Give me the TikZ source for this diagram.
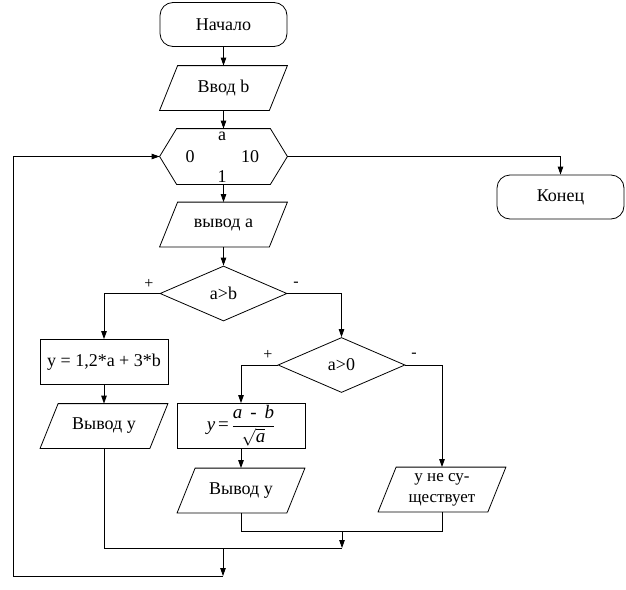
\documentclass[tikz,border=0pt]{standalone}
\usepackage{fontspec}
\setmainfont{Liberation Serif}
\usepackage{amsmath}
\usetikzlibrary{shapes.geometric,arrows.meta}
\begin{document}
\begin{tikzpicture}[x=1pt,y=-1pt, line width=0.8pt, font=\fontsize{18}{21}\selectfont,
 term/.style={draw, rounded corners=13pt, minimum width=127pt, minimum height=44pt, inner sep=0},
 proc/.style={draw, minimum width=128pt, minimum height=45pt, inner sep=0},
 io/.style={minimum width=127pt, minimum height=44pt, inner sep=0, align=center},
 dec/.style={draw, diamond, minimum width=127pt, minimum height=55pt, inner sep=0, aspect=2.3},
 arr/.style={-{Triangle[length=8pt,width=5.5pt]}},
 lbl/.style={inner sep=0},
 sgn/.style={inner sep=0, font=\fontsize{16}{18}\selectfont}]
\useasboundingbox (0,0) rectangle (626,589);
% nodes
\node[term] (start) at (223.5,24.5) {Начало};
\node[io] (inb) at (223.5,88) {Ввод b};
\node[io, minimum height=55pt] (hex) at (223.5,156.5) {};
\node[lbl] (ha) at (222,136) {a};
\node[lbl] (h0) at (190,156.5) {0};
\node[lbl] (h10) at (250,156.5) {10};
\node[lbl] (h1) at (222,177) {1};
\node[term] (end) at (560.5,197) {Конец};
\node[io] (outa) at (223.5,224.5) {вывод а};
\node[dec] (d1) at (223.5,293.5) {a>b};
\node[sgn] (p1) at (149,284) {+};
\node[sgn] (m1) at (296,284) {-};
\node[proc] (y1) at (104,362) {y = 1,2*a + 3*b};
\node[io] (oy1) at (104,426) {Вывод у};
\node[dec] (d2) at (341.5,365) {a>0};
\node[sgn] (p2) at (268,355) {+};
\node[sgn] (m2) at (414,355) {-};
\node[proc, font=\fontsize{19}{22}\selectfont] (y2) at (241,426) {$\textit{y}\,\textrm{=}\,\dfrac{\textit{a\ \,-\ \,b}}{\sqrt{\textit{a}}}$};
\node[io, font=\fontsize{17}{21}\selectfont] (ne) at (442,489.5) {у не су-\\ществует};
\node[io] (oy2) at (241,490.5) {Вывод у};
% shapes
\draw ([xshift=17pt]hex.north west) -- ([xshift=-17pt]hex.north east) -- (hex.east)
  -- ([xshift=-17pt]hex.south east) -- ([xshift=17pt]hex.south west) -- (hex.west) -- cycle;
\foreach \n in {inb,outa,oy1,oy2,ne}
  \draw ([xshift=18pt]\n.north west) -- (\n.north east) -- ([xshift=-18pt]\n.south east) -- (\n.south west) -- cycle;
% connectors
\draw[arr] (start) -- (inb);
\draw[arr] (inb) -- (hex);
\draw[arr] (hex) -- (outa);
\draw[arr] (hex.east) -| (end);
\draw[arr] (outa) -- (d1);
\draw[arr] (d1.west) -| (y1);
\draw[arr] (y1) -- (oy1);
\draw[arr] (d1.east) -| (d2);
\draw[arr] (d2.west) -| (y2);
\draw[arr] (y2) -- (oy2);
\draw[arr] (d2.east) -| (ne);
\coordinate (c1) at (342,531);
\coordinate (j1) at (342,548);
\coordinate (k1) at (223,548);
\coordinate (k2) at (223,576);
\coordinate (lb) at (13,576);
\draw (oy2.south) |- (ne.south |- c1) -- (ne.south);
\draw[arr] (c1) -- (j1);
\draw (oy1.south) |- (j1);
\draw[arr] (k1) -- (k2);
\draw[arr] (k2) -- (lb) |- (hex.west);
\end{tikzpicture}
\end{document}
